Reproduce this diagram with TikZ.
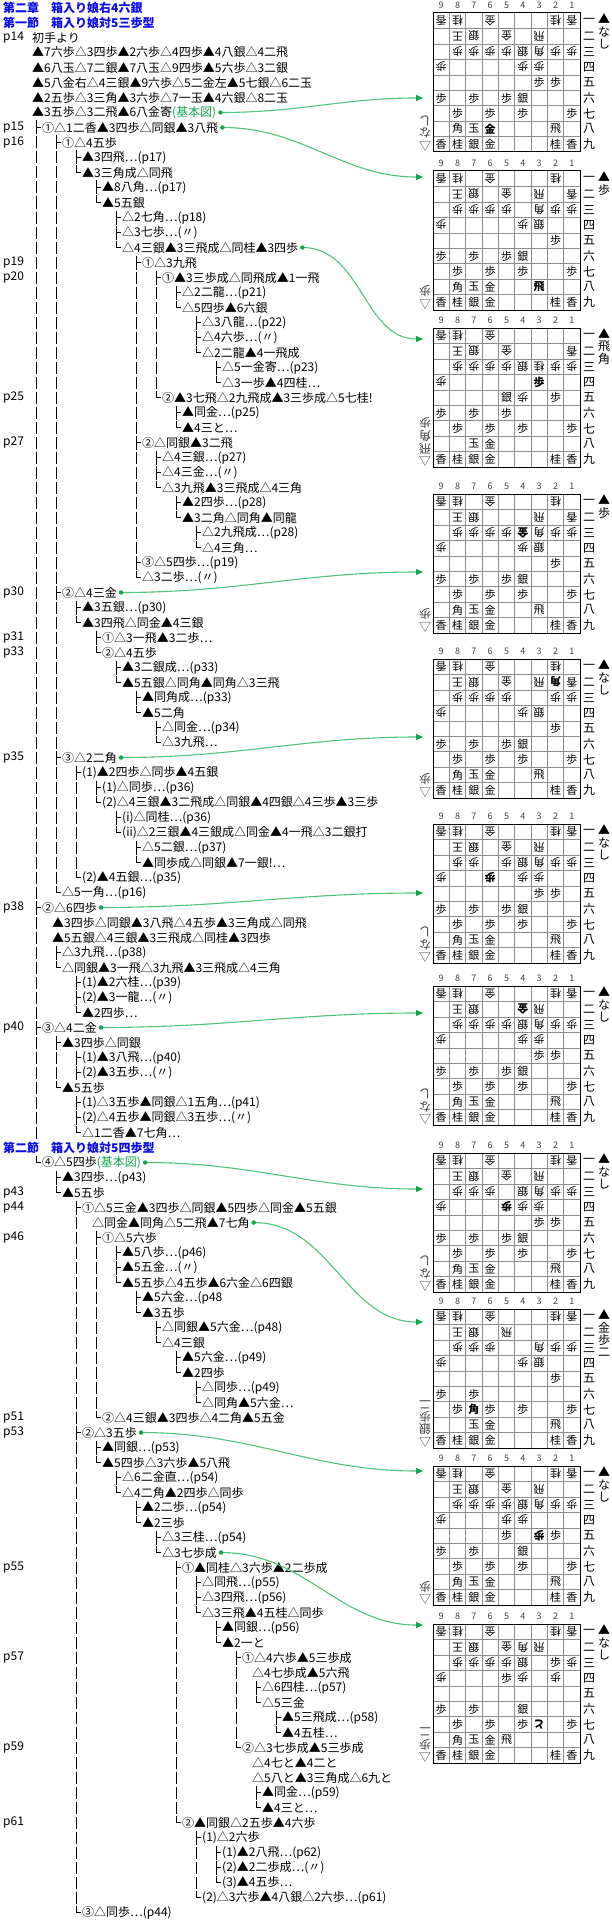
\documentclass[tikz,border=0pt]{standalone}
\usepackage{fontspec}
\setmainfont{Noto Sans CJK JP}
\usetikzlibrary{arrows.meta}
\definecolor{ttl}{RGB}{10,10,235}
\definecolor{grn}{RGB}{20,165,80}
\definecolor{grnl}{RGB}{80,195,125}
\tikzset{
 x=1pt,y=-1pt,
 tree/.style={line width=0.8pt},
 txt/.style={anchor=west,inner sep=0pt,font=\fontsize{12}{12}\selectfont},
 conn/.style={draw=grnl,line width=1.1pt,-{Triangle[length=7pt,width=6pt,color=grn]}},
 gdot/.style={circle,fill=grn,inner sep=0pt,minimum size=4.5pt},
 pc/.style={inner sep=0pt,font=\fontsize{11}{11}\selectfont},
}
\def\angg{180}\def\angG{180}\def\angs{0}\def\angS{0}
\def\wtg{}\def\wts{}\def\wtG{\bfseries}\def\wtS{\bfseries}
\def\Rnine{9/9/香/s,8/9/桂/s,7/9/銀/s,6/9/金/s,2/9/桂/s,1/9/香/s}
\newcommand\Rw[5]{%
 \pgfmathsetmacro\yy{7.5+15*#1}%
 \def\tmpl{#2}%
 \ifx\tmpl\empty\else
  \foreach \b in {#2}{\draw[tree] ({36+20*\b},{\yy-6}) -- ({36+20*\b},{\yy+6});}%
 \fi
 \if n#3\pgfmathsetmacro\tx{#4}\else
  \pgfmathsetmacro\xx{36+20*#4}\pgfmathsetmacro\tx{\xx+6}%
  \if t#3\draw[tree] (\xx,{\yy-7}) -- (\xx,{\yy+7}) (\xx,\yy) -- ({\xx+5},\yy);\fi
  \if l#3\draw[tree] (\xx,{\yy-7}) -- (\xx,\yy) -- ({\xx+5},\yy);\fi
 \fi
 \node[txt] (r#1) at (\tx,\yy) {#5};%
}
\newcommand\Pg[2]{\node[txt] (pg#1) at (3,{7.5+15*#1}) {#2};}
\newcommand\Ar[3]{\coordinate (#3) at (423,#2);
 \draw[conn] ([xshift=4pt]r#1.east) to[out=0,in=180] (#3);
 \node[gdot] at ([xshift=4pt]r#1.east) {};}
\newcommand\Board[4]{%
 \pgfmathsetmacro\bt{#1-139}%
 \foreach \i in {1,...,8}{\draw[black!45,line width=0.5pt] ({433+\i*16.333},\bt) -- ({433+\i*16.333},#1) (433,{\bt+\i*15.444}) -- (580,{\bt+\i*15.444});}
 \draw[line width=1pt] (433,\bt) rectangle (580,#1);
 \foreach \n [count=\k] in {9,8,7,6,5,4,3,2,1}{\node[inner sep=0pt,font=\fontsize{9}{9}\selectfont,text=black!75] at ({433+(\k-0.5)*16.333},{\bt-8}) {\n};}
 \foreach \n [count=\k] in {一,二,三,四,五,六,七,八,九}{\node[inner sep=0pt,font=\fontsize{12}{12}\selectfont] at (589,{\bt+(\k-0.5)*15.444}) {\n};}
 \foreach \c/\r/\p/\s in {#2}{\edef\ang{\csname ang\s\endcsname}\node[pc,rotate=\ang] at ({433+(9.5-\c)*16.333},{\bt+(\r-0.5)*15.444}) {\csname wt\s\endcsname\p};}
 \foreach \c/\r/\p/\s in \Rnine{\node[pc] at ({433+(9.5-\c)*16.333},{\bt+(\r-0.5)*15.444}) {\p};}
 \foreach \h [count=\k] in {#3}{\node[inner sep=0pt,font=\fontsize{12}{12}\selectfont] at (604,{\bt+6+(\k-1)*12.5}) {\h};}
 \foreach \h [count=\k] in {#4}{\node[inner sep=0pt,rotate=180,font=\fontsize{12}{12}\selectfont,text=black!75] at (425,{#1-6-(\k-1)*12.5}) {\h};}
}
\begin{document}
\begin{tikzpicture}
\useasboundingbox[fill=white] (0,0) rectangle (612,1921);
\node[txt,font=\fontsize{12}{12}\selectfont\bfseries,text=ttl] (r0) at (3,7.5) {第二章　箱入り娘右4六銀};
\node[txt,font=\fontsize{12}{12}\selectfont\bfseries,text=ttl] (r1) at (3,22.5) {第一節　箱入り娘対5三歩型};
\Rw{2}{}{n}{32}{初手より}
\Rw{3}{}{n}{32}{▲7六歩△3四歩▲2六歩△4四歩▲4八銀△4二飛}
\Rw{4}{}{n}{32}{▲6八玉△7二銀▲7八玉△9四歩▲5六歩△3二銀}
\Rw{5}{}{n}{32}{▲5八金右△4三銀▲9六歩△5二金左▲5七銀△6二玉}
\Rw{6}{}{n}{32}{▲2五歩△3三角▲3六歩△7一玉▲4六銀△8二玉}
\Rw{7}{}{n}{32}{▲3五歩△3二飛▲6八金寄\textcolor{grn}{(基本図)}}
\Rw{8}{}{t}{0}{①△1二香▲3四歩△同銀▲3八飛}
\Rw{9}{0}{t}{1}{①△4五歩}
\Rw{10}{0,1}{t}{2}{▲3四飛…(p17)}
\Rw{11}{0,1}{l}{2}{▲3三角成△同飛}
\Rw{12}{0,1}{t}{3}{▲8八角…(p17)}
\Rw{13}{0,1}{l}{3}{▲5五銀}
\Rw{14}{0,1}{t}{4}{△2七角…(p18)}
\Rw{15}{0,1}{t}{4}{△3七歩…(〃)}
\Rw{16}{0,1}{l}{4}{△4三銀▲3三飛成△同桂▲3四歩}
\Rw{17}{0,1}{t}{5}{①△3九飛}
\Rw{18}{0,1,5}{t}{6}{①▲3三歩成△同飛成▲1一飛}
\Rw{19}{0,1,5,6}{t}{7}{△2二龍…(p21)}
\Rw{20}{0,1,5,6}{l}{7}{△5四歩▲6六銀}
\Rw{21}{0,1,5,6}{t}{8}{△3八龍…(p22)}
\Rw{22}{0,1,5,6}{t}{8}{△4六歩…(〃)}
\Rw{23}{0,1,5,6}{l}{8}{△2二龍▲4一飛成}
\Rw{24}{0,1,5,6}{t}{9}{△5一金寄…(p23)}
\Rw{25}{0,1,5,6}{l}{9}{△3一歩▲4四桂…}
\Rw{26}{0,1,5}{l}{6}{②▲3七飛△2九飛成▲3三歩成△5七桂!}
\Rw{27}{0,1,5}{t}{7}{▲同金…(p25)}
\Rw{28}{0,1,5}{l}{7}{▲4三と…}
\Rw{29}{0,1}{t}{5}{②△同銀▲3二飛}
\Rw{30}{0,1,5}{t}{6}{△4三銀…(p27)}
\Rw{31}{0,1,5}{t}{6}{△4三金…(〃)}
\Rw{32}{0,1,5}{l}{6}{△3九飛▲3三飛成△4三角}
\Rw{33}{0,1,5}{t}{7}{▲2四歩…(p28)}
\Rw{34}{0,1,5}{l}{7}{▲3二角△同角▲同龍}
\Rw{35}{0,1,5}{t}{8}{△2九飛成…(p28)}
\Rw{36}{0,1,5}{l}{8}{△4三角…}
\Rw{37}{0,1}{t}{5}{③△5四歩…(p19)}
\Rw{38}{0,1}{l}{5}{△3二歩…(〃)}
\Rw{39}{0}{t}{1}{②△4三金}
\Rw{40}{0,1}{t}{2}{▲3五銀…(p30)}
\Rw{41}{0,1}{l}{2}{▲3四飛△同金▲4三銀}
\Rw{42}{0,1}{t}{3}{①△3一飛▲3二歩…}
\Rw{43}{0,1}{l}{3}{②△4五歩}
\Rw{44}{0,1}{t}{4}{▲3二銀成…(p33)}
\Rw{45}{0,1}{l}{4}{▲5五銀△同角▲同角△3三飛}
\Rw{46}{0,1}{t}{5}{▲同角成…(p33)}
\Rw{47}{0,1}{l}{5}{▲5二角}
\Rw{48}{0,1}{t}{6}{△同金…(p34)}
\Rw{49}{0,1}{l}{6}{△3九飛…}
\Rw{50}{0}{t}{1}{③△2二角}
\Rw{51}{0,1}{t}{2}{(1)▲2四歩△同歩▲4五銀}
\Rw{52}{0,1,2}{t}{3}{(1)△同歩…(p36)}
\Rw{53}{0,1,2}{l}{3}{(2)△4三銀▲3二飛成△同銀▲4四銀△4三歩▲3三歩}
\Rw{54}{0,1,2}{t}{4}{(i)△同桂…(p36)}
\Rw{55}{0,1,2}{l}{4}{(ii)△2三銀▲4三銀成△同金▲4一飛△3二銀打}
\Rw{56}{0,1,2}{t}{5}{△5二銀…(p37)}
\Rw{57}{0,1,2}{l}{5}{▲同歩成△同銀▲7一銀!…}
\Rw{58}{0,1}{l}{2}{(2)▲4五銀…(p35)}
\Rw{59}{0}{l}{1}{△5一角…(p16)}
\Rw{60}{}{t}{0}{②△6四歩}
\Rw{61}{0}{n}{52}{▲3四歩△同銀▲3八飛△4五歩▲3三角成△同飛}
\Rw{62}{0}{n}{52}{▲5五銀△4三銀▲3三飛成△同桂▲3四歩}
\Rw{63}{0}{t}{1}{△3九飛…(p38)}
\Rw{64}{0}{l}{1}{△同銀▲3一飛△3九飛▲3三飛成△4三角}
\Rw{65}{0}{t}{2}{(1)▲2六桂…(p39)}
\Rw{66}{0}{t}{2}{(2)▲3一龍…(〃)}
\Rw{67}{0}{l}{2}{▲2四歩…}
\Rw{68}{}{t}{0}{③△4二金}
\Rw{69}{0}{t}{1}{▲3四歩△同銀}
\Rw{70}{0,1}{t}{2}{(1)▲3八飛…(p40)}
\Rw{71}{0,1}{t}{2}{(2)▲3五歩…(〃)}
\Rw{72}{0}{l}{1}{▲5五歩}
\Rw{73}{0}{t}{2}{(1)△3五歩▲同銀△1五角…(p41)}
\Rw{74}{0}{t}{2}{(2)△4五歩▲同銀△3五歩…(〃)}
\Rw{75}{0}{l}{2}{△1二香▲7七角…}
\node[txt,font=\fontsize{12}{12}\selectfont\bfseries,text=ttl] (r76) at (3,1147.5) {第二節　箱入り娘対5四歩型};
\Rw{77}{}{l}{0}{④△5四歩\textcolor{grn}{(基本図)}}
\Rw{78}{}{t}{1}{▲3四歩…(p43)}
\Rw{79}{}{l}{1}{▲5五歩}
\Rw{80}{}{t}{2}{①△5三金▲3四歩△同銀▲5四歩△同金▲5五銀}
\Rw{81}{2}{n}{92}{△同金▲同角△5二飛▲7七角}
\Rw{82}{2}{t}{3}{①△5六歩}
\Rw{83}{2,3}{t}{4}{▲5八歩…(p46)}
\Rw{84}{2,3}{t}{4}{▲5五金…(〃)}
\Rw{85}{2,3}{l}{4}{▲5五歩△4五歩▲6六金△6四銀}
\Rw{86}{2,3}{t}{5}{▲5六金…(p48}
\Rw{87}{2,3}{l}{5}{▲3五歩}
\Rw{88}{2,3}{t}{6}{△同銀▲5六金…(p48)}
\Rw{89}{2,3}{l}{6}{△4三銀}
\Rw{90}{2,3}{t}{7}{▲5六金…(p49)}
\Rw{91}{2,3}{l}{7}{▲2四歩}
\Rw{92}{2,3}{t}{8}{△同歩…(p49)}
\Rw{93}{2,3}{l}{8}{△同角▲5六金…}
\Rw{94}{2}{l}{3}{②△4三銀▲3四歩△4二角▲5五金}
\Rw{95}{}{t}{2}{②△3五歩}
\Rw{96}{2}{t}{3}{▲同銀…(p53)}
\Rw{97}{2}{l}{3}{▲5四歩△3六歩▲5八飛}
\Rw{98}{2}{t}{4}{△6二金直…(p54)}
\Rw{99}{2}{l}{4}{△4二角▲2四歩△同歩}
\Rw{100}{2}{t}{5}{▲2二歩…(p54)}
\Rw{101}{2}{l}{5}{▲2三歩}
\Rw{102}{2}{t}{6}{△3三桂…(p54)}
\Rw{103}{2}{l}{6}{△3七歩成}
\Rw{104}{2}{t}{7}{①▲同桂△3六歩▲2二歩成}
\Rw{105}{2,7}{t}{8}{△同飛…(p55)}
\Rw{106}{2,7}{t}{8}{△3四飛…(p56)}
\Rw{107}{2,7}{l}{8}{△3三飛▲4五桂△同歩}
\Rw{108}{2,7}{t}{9}{▲同銀…(p56)}
\Rw{109}{2,7}{l}{9}{▲2一と}
\Rw{110}{2,7}{t}{10}{①△4六歩▲5三歩成}
\Rw{111}{2,7,10}{n}{252}{△4七歩成▲5六飛}
\Rw{112}{2,7,10}{t}{11}{△6四桂…(p57)}
\Rw{113}{2,7,10}{l}{11}{△5三金}
\Rw{114}{2,7,10}{t}{12}{▲5三飛成…(p58)}
\Rw{115}{2,7,10}{l}{12}{▲4五桂…}
\Rw{116}{2,7}{l}{10}{②△3七歩成▲5三歩成}
\Rw{117}{2,7}{n}{252}{△4七と▲4二と}
\Rw{118}{2,7}{n}{252}{△5八と▲3三角成△6九と}
\Rw{119}{2,7}{t}{11}{▲同金…(p59)}
\Rw{120}{2,7}{l}{11}{▲4三と…}
\Rw{121}{2}{l}{7}{②▲同銀△2五歩▲4六歩}
\Rw{122}{2}{t}{8}{(1)△2六歩}
\Rw{123}{2,8}{t}{9}{(1)▲2八飛…(p62)}
\Rw{124}{2,8}{t}{9}{(2)▲2二歩成…(〃)}
\Rw{125}{2,8}{l}{9}{(3)▲4五歩…}
\Rw{126}{2}{l}{8}{(2)△3六歩▲4八銀△2六歩…(p61)}
\Rw{127}{}{l}{2}{③△同歩…(p44)}
\Pg{2}{p14}\Pg{8}{p15}\Pg{9}{p16}\Pg{17}{p19}\Pg{18}{p20}\Pg{26}{p25}\Pg{29}{p27}
\Pg{39}{p30}\Pg{42}{p31}\Pg{43}{p33}\Pg{50}{p35}\Pg{60}{p38}\Pg{68}{p40}\Pg{79}{p43}
\Pg{80}{p44}\Pg{82}{p46}\Pg{94}{p51}\Pg{95}{p53}\Pg{104}{p55}\Pg{110}{p57}\Pg{116}{p59}\Pg{121}{p61}
% boards
\Board{152}{9/1/香/g,8/1/桂/g,6/1/金/g,2/1/桂/g,1/1/香/g,8/2/王/g,7/2/銀/g,5/2/金/g,3/2/飛/g,8/3/歩/g,7/3/歩/g,6/3/歩/g,5/3/歩/g,4/3/銀/g,3/3/角/g,2/3/歩/g,1/3/歩/g,9/4/歩/g,4/4/歩/g,3/4/歩/g,3/5/歩/s,2/5/歩/s,9/6/歩/s,7/6/歩/s,5/6/歩/s,4/6/銀/s,8/7/歩/s,6/7/歩/s,4/7/歩/s,1/7/歩/s,8/8/角/s,7/8/玉/s,6/8/金/S,2/8/飛/s}{▲,な,し}{△,な,し}
\Board{310}{9/1/香/g,8/1/桂/g,6/1/金/g,2/1/桂/g,8/2/王/g,7/2/銀/g,5/2/金/g,3/2/飛/g,1/2/香/g,8/3/歩/g,7/3/歩/g,6/3/歩/g,5/3/歩/g,3/3/角/g,2/3/歩/g,1/3/歩/g,9/4/歩/g,4/4/歩/g,3/4/銀/g,2/5/歩/s,9/6/歩/s,7/6/歩/s,5/6/歩/s,4/6/銀/s,8/7/歩/s,6/7/歩/s,4/7/歩/s,1/7/歩/s,8/8/角/s,7/8/玉/s,6/8/金/s,3/8/飛/S}{▲,歩}{△,歩}
\Board{467}{9/1/香/g,8/1/桂/g,6/1/金/g,8/2/王/g,7/2/銀/g,5/2/金/g,1/2/香/g,8/3/歩/g,7/3/歩/g,6/3/歩/g,5/3/歩/g,4/3/銀/g,3/3/桂/g,2/3/歩/g,1/3/歩/g,9/4/歩/g,3/4/歩/S,5/5/銀/s,4/5/歩/g,2/5/歩/s,9/6/歩/s,7/6/歩/s,5/6/歩/s,8/7/歩/s,6/7/歩/s,4/7/歩/s,1/7/歩/s,7/8/玉/s,6/8/金/s}{▲,飛,角}{△,飛,角,歩}
\Board{633}{9/1/香/g,8/1/桂/g,6/1/金/g,2/1/桂/g,8/2/王/g,7/2/銀/g,3/2/飛/g,1/2/香/g,8/3/歩/g,7/3/歩/g,6/3/歩/g,5/3/歩/g,4/3/金/G,3/3/角/g,2/3/歩/g,1/3/歩/g,9/4/歩/g,4/4/歩/g,3/4/銀/g,2/5/歩/s,9/6/歩/s,7/6/歩/s,5/6/歩/s,4/6/銀/s,8/7/歩/s,6/7/歩/s,4/7/歩/s,1/7/歩/s,8/8/角/s,7/8/玉/s,6/8/金/s,3/8/飛/s}{▲,歩}{△,歩}
\Board{798}{9/1/香/g,8/1/桂/g,6/1/金/g,2/1/桂/g,8/2/王/g,7/2/銀/g,5/2/金/g,3/2/飛/g,2/2/角/G,1/2/香/g,8/3/歩/g,7/3/歩/g,6/3/歩/g,5/3/歩/g,2/3/歩/g,1/3/歩/g,9/4/歩/g,4/4/歩/g,3/4/銀/g,2/5/歩/s,9/6/歩/s,7/6/歩/s,5/6/歩/s,4/6/銀/s,8/7/歩/s,6/7/歩/s,4/7/歩/s,1/7/歩/s,8/8/角/s,7/8/玉/s,6/8/金/s,3/8/飛/s}{▲,な,し}{△,歩}
\Board{963}{9/1/香/g,8/1/桂/g,6/1/金/g,2/1/桂/g,1/1/香/g,8/2/王/g,7/2/銀/g,5/2/金/g,3/2/飛/g,8/3/歩/g,7/3/歩/g,5/3/歩/g,4/3/銀/g,3/3/角/g,2/3/歩/g,1/3/歩/g,9/4/歩/g,6/4/歩/G,4/4/歩/g,3/4/歩/g,3/5/歩/s,2/5/歩/s,9/6/歩/s,7/6/歩/s,5/6/歩/s,4/6/銀/s,8/7/歩/s,6/7/歩/s,4/7/歩/s,1/7/歩/s,8/8/角/s,7/8/玉/s,6/8/金/s,2/8/飛/s}{▲,な,し}{△,な,し}
\Board{1125}{9/1/香/g,8/1/桂/g,6/1/金/g,2/1/桂/g,1/1/香/g,8/2/王/g,7/2/銀/g,4/2/金/G,3/2/飛/g,8/3/歩/g,7/3/歩/g,6/3/歩/g,5/3/歩/g,4/3/銀/g,3/3/角/g,2/3/歩/g,1/3/歩/g,9/4/歩/g,4/4/歩/g,3/4/歩/g,3/5/歩/s,2/5/歩/s,9/6/歩/s,7/6/歩/s,5/6/歩/s,4/6/銀/s,8/7/歩/s,6/7/歩/s,4/7/歩/s,1/7/歩/s,8/8/角/s,7/8/玉/s,6/8/金/s,2/8/飛/s}{▲,な,し}{△,な,し}
\Board{1292}{9/1/香/g,8/1/桂/g,6/1/金/g,2/1/桂/g,1/1/香/g,8/2/王/g,7/2/銀/g,5/2/金/g,3/2/飛/g,8/3/歩/g,7/3/歩/g,6/3/歩/g,4/3/銀/g,3/3/角/g,2/3/歩/g,1/3/歩/g,9/4/歩/g,5/4/歩/G,4/4/歩/g,3/4/歩/g,3/5/歩/s,2/5/歩/s,9/6/歩/s,7/6/歩/s,5/6/歩/s,4/6/銀/s,8/7/歩/s,6/7/歩/s,4/7/歩/s,1/7/歩/s,8/8/角/s,7/8/玉/s,6/8/金/s,2/8/飛/s}{▲,な,し}{△,な,し}
\Board{1448}{9/1/香/g,8/1/桂/g,6/1/金/g,2/1/桂/g,1/1/香/g,8/2/王/g,7/2/銀/g,5/2/飛/g,8/3/歩/g,7/3/歩/g,6/3/歩/g,3/3/角/g,2/3/歩/g,1/3/歩/g,9/4/歩/g,4/4/歩/g,3/4/銀/g,2/5/歩/s,9/6/歩/s,7/6/歩/s,8/7/歩/s,7/7/角/S,6/7/歩/s,4/7/歩/s,1/7/歩/s,7/8/玉/s,6/8/金/s,2/8/飛/s}{▲,金,歩,二}{△,銀,歩,二}
\Board{1605}{9/1/香/g,8/1/桂/g,6/1/金/g,2/1/桂/g,1/1/香/g,8/2/王/g,7/2/銀/g,5/2/金/g,3/2/飛/g,8/3/歩/g,7/3/歩/g,6/3/歩/g,5/3/歩/g,4/3/銀/g,3/3/角/g,2/3/歩/g,1/3/歩/g,9/4/歩/g,5/4/歩/g,4/4/歩/g,5/5/歩/s,3/5/歩/G,2/5/歩/s,9/6/歩/s,7/6/歩/s,4/6/銀/s,8/7/歩/s,6/7/歩/s,4/7/歩/s,1/7/歩/s,8/8/角/s,7/8/玉/s,6/8/金/s,2/8/飛/s}{▲,な,し}{△,歩}
\Board{1763}{9/1/香/g,8/1/桂/g,6/1/金/g,2/1/桂/g,1/1/香/g,8/2/王/g,7/2/銀/g,5/2/金/g,4/2/角/g,3/2/飛/g,8/3/歩/g,7/3/歩/g,6/3/歩/g,5/3/歩/g,4/3/銀/g,2/3/歩/s,1/3/歩/g,9/4/歩/g,5/4/歩/s,4/4/歩/g,2/4/歩/g,9/6/歩/s,7/6/歩/s,4/6/銀/s,8/7/歩/s,6/7/歩/s,4/7/歩/s,3/7/と/G,1/7/歩/s,8/8/角/s,7/8/玉/s,6/8/金/s,5/8/飛/s}{▲,な,し}{△,歩,二}
% connectors
\Ar{7}{98}{a1}
\Ar{8}{177}{a2}
\Ar{16}{339}{a3}
\Ar{39}{572}{a4}
\Ar{50}{737}{a5}
\Ar{60}{893}{a6}
\Ar{68}{1013}{a7}
\Ar{77}{1189}{a8}
\Ar{81}{1322}{a9}
\Ar{95}{1471}{a10}
\Ar{103}{1625}{a11}
\end{tikzpicture}
\end{document}
